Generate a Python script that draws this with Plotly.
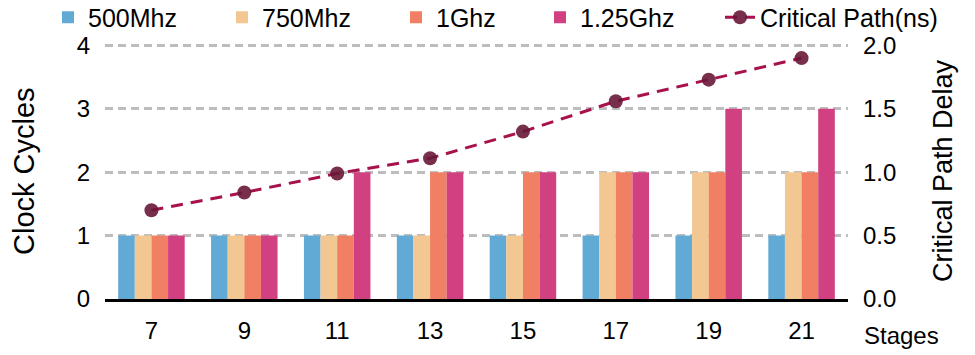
import plotly.graph_objects as go

stages = ["7", "9", "11", "13", "15", "17", "19", "21"]
cycles_500mhz = [1, 1, 1, 1, 1, 1, 1, 1]
cycles_750mhz = [1, 1, 1, 1, 1, 2, 2, 2]
cycles_1ghz = [1, 1, 1, 2, 2, 2, 2, 2]
cycles_125ghz = [1, 1, 2, 2, 2, 2, 3, 3]
critical_path_ns = [0.70, 0.84, 0.99, 1.11, 1.32, 1.56, 1.73, 1.90]

W, H = 975, 355
L, R, T, B = 105, 127, 43, 56
PW, PH = W - L - R, H - T - B
UNIT = 63.4  # pixels per clock cycle
Y_TOP = PH / UNIT  # slightly above 4 so the top gridline is drawn
FONT = "Arial, Liberation Sans, sans-serif"


def px_x(px):
    return (px - L) / PW


def px_y(py):
    return (H - B - py) / PH


bar_series = [
    ("500Mhz", cycles_500mhz, "#62AAD6"),
    ("750Mhz", cycles_750mhz, "#F2C792"),
    ("1Ghz", cycles_1ghz, "#F07F63"),
    ("1.25Ghz", cycles_125ghz, "#D14080"),
]
legend_text_x = [88, 262, 436, 580, 760]
legend_keys = ["legend", "legend2", "legend3", "legend4", "legend5"]

fig = go.Figure()
for i, (name, vals, col) in enumerate(bar_series):
    fig.add_trace(go.Bar(
        x=stages, y=vals, name=name, marker_color=col,
        marker_line_width=0, legend=legend_keys[i], showlegend=True,
    ))

fig.add_trace(go.Scatter(
    x=stages, y=critical_path_ns, name="Critical Path(ns)", yaxis="y2",
    mode="lines+markers",
    line=dict(color="#A8124C", width=3, dash="12px,8px"),
    marker=dict(color="rgba(104,24,56,0.9)", size=14),
    legend=legend_keys[4], showlegend=True,
))

legends = {}
for key, tx in zip(legend_keys, legend_text_x):
    legends[key] = dict(
        x=px_x(tx - 40), xanchor="left", y=px_y(17.5), yanchor="middle",
        orientation="h", bgcolor="rgba(0,0,0,0)", borderwidth=0,
        font=dict(family=FONT, size=25, color="#000"),
        visible=True,
    )

fig.update_layout(
    width=W, height=H,
    margin=dict(l=L, r=R, t=T, b=B, autoexpand=False),
    plot_bgcolor="white", paper_bgcolor="white",
    barmode="group", bargap=0.284, bargroupgap=0,
    showlegend=True,
    font=dict(family=FONT, size=24, color="#000"),
    xaxis=dict(
        type="category", showline=True, linecolor="#000", linewidth=3,
        ticks="", showgrid=False, tickfont=dict(size=24),
        ticklabelstandoff=8,
    ),
    yaxis=dict(
        range=[0, Y_TOP], tickvals=[0, 1, 2, 3, 4], showline=False,
        zeroline=False, showgrid=True, gridcolor="#BDBDBD", gridwidth=2.5,
        griddash="8px,5px", ticks="", tickfont=dict(size=24),
        ticklabelstandoff=14,
    ),
    yaxis2=dict(
        range=[0, Y_TOP / 2], tickvals=[0, 0.5, 1.0, 1.5, 2.0],
        tickformat=".1f", overlaying="y",
        side="right", showgrid=False, zeroline=False, showline=False,
        ticks="", tickfont=dict(size=24), ticklabelstandoff=14,
    ),
    annotations=[
        dict(text="Clock Cycles", xref="paper", yref="paper",
             x=px_x(24), y=px_y(171), textangle=-90, showarrow=False,
             xanchor="center", yanchor="middle", font=dict(size=29)),
        dict(text="Critical Path Delay", xref="paper", yref="paper",
             x=px_x(943), y=px_y(171), textangle=-90, showarrow=False,
             xanchor="center", yanchor="middle", font=dict(size=27)),
        dict(text="Stages", xref="paper", yref="paper",
             x=px_x(862), y=px_y(335), showarrow=False,
             xanchor="left", yanchor="middle", font=dict(size=24)),
    ],
    **legends,
)

fig.write_html(
    "out.html",
    config={"displayModeBar": False},
    post_script="document.body.style.margin='0';document.body.style.overflow='hidden';",
)
